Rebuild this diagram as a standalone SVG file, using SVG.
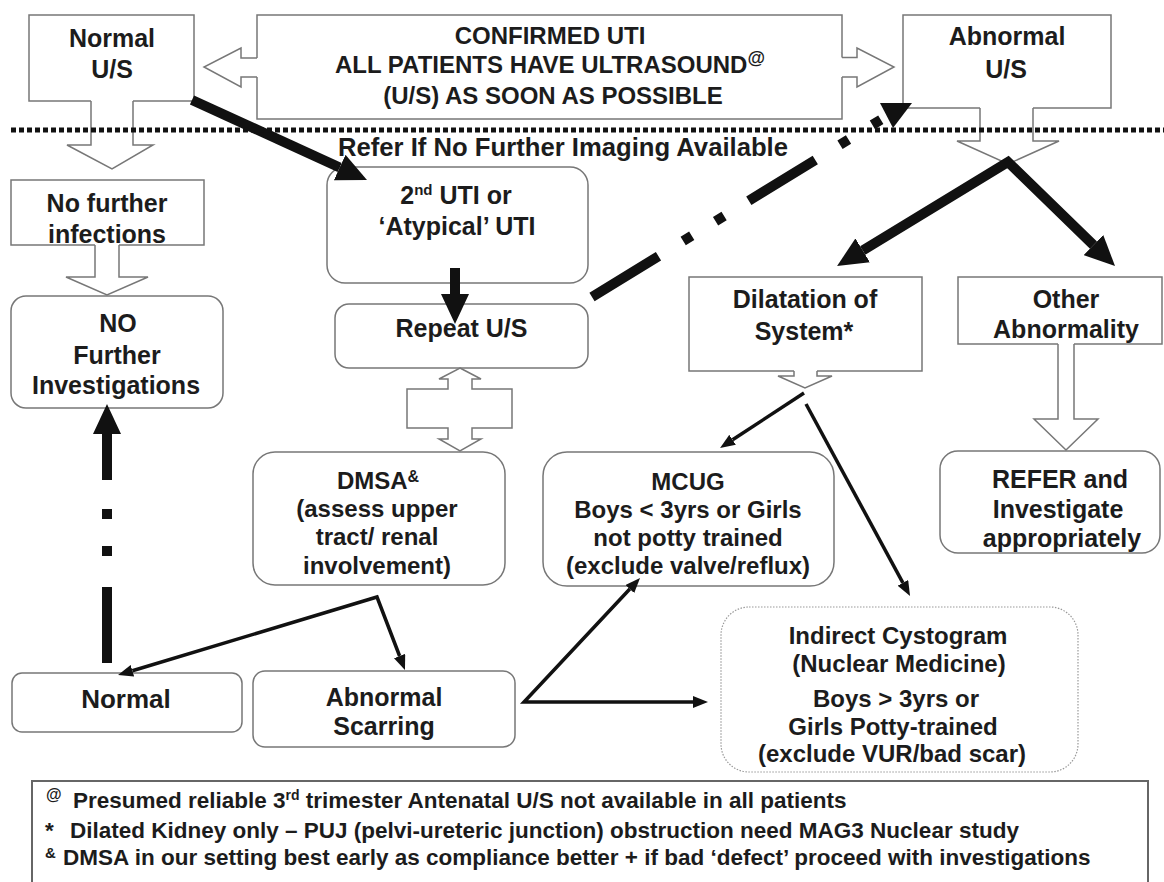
<svg xmlns="http://www.w3.org/2000/svg" width="1164" height="882" viewBox="0 0 1164 882">
<style>
text{font-family:"Liberation Sans",Arial,Helvetica,sans-serif;font-weight:bold;fill:#1c1c1c;font-size:25px;text-anchor:middle}
.f24{font-size:24px}
.f26{font-size:26px}
.fn{font-size:22.5px;text-anchor:start}
.st{text-anchor:start}
.box{fill:#fff;stroke:#777;stroke-width:1.5}
.open{fill:none;stroke:#777;stroke-width:1.5}
.blk{fill:#fff;stroke:#777;stroke-width:1.5;stroke-linejoin:miter}
.thick{fill:none;stroke:#111;stroke-width:10}
.thin{fill:none;stroke:#111;stroke-width:3.5}
.dot{fill:#fff;stroke:#999;stroke-width:1.2;stroke-dasharray:1.5 1.5}
</style>
<defs>
<marker id="big" markerUnits="userSpaceOnUse" viewBox="0 0 30 28" refX="0" refY="14" markerWidth="30" markerHeight="28" orient="auto-start-reverse">
<path d="M0,0 L30,14 L0,28 z" fill="#111"/>
</marker>
<marker id="small" markerUnits="userSpaceOnUse" viewBox="0 0 15 12" refX="0" refY="6" markerWidth="15" markerHeight="12" orient="auto-start-reverse">
<path d="M0,0 L15,6 L0,12 z" fill="#111"/>
</marker>
</defs>
<rect width="1164" height="882" fill="#fff"/>

<g id="nodes">
<g id="n-normal-us">
<path class="open" d="M91,101 H29 V15 H194 V101 H133"/>
<text x="112" y="47">Normal</text>
<text x="112" y="78">U/S</text>
</g>
<g id="n-confirmed">
<path class="open" d="M257,58 V15 H842 V57.5 M842,77 V119 H257 V77"/>
<text class="f24" x="550" y="44">CONFIRMED UTI</text>
<text class="f24" x="550" y="73">ALL PATIENTS HAVE ULTRASOUND<tspan font-size="18" dy="-9">@</tspan></text>
<text class="f24" x="553" y="104">(U/S) AS SOON AS POSSIBLE</text>
</g>
<g id="n-abnormal-us">
<path class="open" d="M980,108 H903 V15 H1111 V108 H1033"/>
<text x="1007" y="45">Abnormal</text>
<text x="1006" y="78">U/S</text>
</g>
<g id="n-no-further-inf">
<path class="open" d="M95,245 H11 V180 H204 V245 H119"/>
<text x="107" y="212">No further</text>
<text x="107" y="243">infections</text>
</g>
<g id="n-no-further-inv">
<rect class="box" x="11" y="296" width="212" height="112" rx="15"/>
<text x="118" y="332">NO</text>
<text x="117" y="364">Further</text>
<text x="116" y="394">Investigations</text>
</g>
<g id="n-2nd-uti">
<rect class="box" x="327" y="167" width="261" height="116" rx="18"/>
<text x="456" y="204">2<tspan font-size="15" dy="-9">nd</tspan><tspan dy="9"> UTI or</tspan></text>
<text x="457" y="235">‘Atypical’ UTI</text>
</g>
<g id="n-repeat-us">
<rect class="box" x="335" y="304" width="253" height="64" rx="14"/>
<text x="461.5" y="337">Repeat U/S</text>
</g>
<g id="n-dmsa">
<rect class="box" x="253" y="452" width="252" height="133" rx="22"/>
<text class="f24" x="378" y="489">DMSA<tspan font-size="16" dy="-7">&amp;</tspan></text>
<text class="f24" x="377" y="517">(assess upper</text>
<text class="f24" x="377" y="545">tract/ renal</text>
<text class="f24" x="377" y="574">involvement)</text>
</g>
<g id="n-dilatation">
<path class="open" d="M794,371 H689 V277 H922 V371 H817"/>
<text x="805" y="308">Dilatation of</text>
<text x="804" y="340">System*</text>
</g>
<g id="n-other">
<path class="open" d="M1058,344 H958 V277 H1162 V344 H1074"/>
<text x="1066" y="308">Other</text>
<text x="1066" y="338">Abnormality</text>
</g>
<g id="n-mcug">
<rect class="box" x="543" y="452" width="291" height="134" rx="24"/>
<text class="f24" x="688" y="490">MCUG</text>
<text class="f24" x="688" y="518">Boys &lt; 3yrs or Girls</text>
<text class="f24" x="688" y="546">not potty trained</text>
<text class="f24" x="688" y="574">(exclude valve/reflux)</text>
</g>
<g id="n-refer">
<rect class="box" x="940" y="451" width="220" height="102" rx="18"/>
<text x="1060" y="488">REFER and</text>
<text x="1058" y="518">Investigate</text>
<text x="1062" y="547">appropriately</text>
</g>
<g id="n-indirect">
<rect class="dot" x="721" y="607" width="357" height="165" rx="28"/>
<text class="f24" x="898" y="644">Indirect Cystogram</text>
<text class="f24" x="899" y="672">(Nuclear Medicine)</text>
<text class="f24" x="896" y="707">Boys &gt; 3yrs or</text>
<text class="f24" x="893" y="735">Girls Potty-trained</text>
<text class="f24" x="892" y="762">(exclude VUR/bad scar)</text>
</g>
<g id="n-normal">
<rect class="box" x="12" y="673" width="230" height="59" rx="10"/>
<text class="f26" x="126" y="708">Normal</text>
</g>
<g id="n-abn-scarring">
<rect class="box" x="253" y="671" width="262" height="76" rx="12"/>
<text x="384" y="706">Abnormal</text>
<text x="384" y="735">Scarring</text>
</g>
</g>

<g id="connectors">
<polyline class="blk" points="257,58 241,58 241,48 204,67 241,87 241,77 257,77"/>
<polyline class="blk" points="842,57.5 857,57.5 857,48 894,67 857,87 857,77 842,77"/>
<polyline class="blk" points="91,101 91,145 67,145 112,169 153,145 133,145 133,101"/>
<polyline class="blk" points="980,108 980,141 957,141 1008,164 1059,141 1033,141 1033,108"/>
<polyline class="blk" points="95,245 95,277 66,277 107,295 148,277 119,277 119,245"/>
<polyline class="blk" points="794,371 794,376 778,376 805,388 832,376 817,376 817,371"/>
<polyline class="blk" points="1058,344 1058,419 1034,419 1066,450 1098,419 1074,419 1074,344"/>
<polygon class="blk" points="460,368 481,379 472,379 472,389 512,389 512,428 472,428 472,439 481,439 460,451 439,439 448,439 448,428 407,428 407,389 448,389 448,379 439,379"/>

<path class="thick" d="M192,100 L339.7,167.5" marker-end="url(#big)"/>
<path class="thick" d="M455,268 L455,294" marker-end="url(#big)"/>
<path class="thick" d="M862.7,250.4 L1008,162 L1093.5,245.1" marker-start="url(#big)" marker-end="url(#big)"/>
<path class="thick" d="M592,297 L880.8,119.7" stroke-dasharray="78 29 10 28 10 29 78 29 10 28 10"/>
<polygon points="880,103 912,103 893,128" fill="#111"/>
<path class="thick" d="M107,663 L107,434" stroke-dasharray="76 31 10 27 10 29 46" marker-end="url(#big)"/>

<path class="thin" d="M132.4,670.7 L377,597 L399.6,656" marker-start="url(#small)" marker-end="url(#small)"/>
<path class="thin" d="M804,393 L732.6,439.8" marker-end="url(#small)"/>
<path class="thin" d="M806,404 L902.9,582.8" marker-end="url(#small)"/>
<path class="thin" d="M629.8,589 L524,702 L693,702" marker-start="url(#small)" marker-end="url(#small)"/>
</g>

<g id="divider">
<line x1="11" y1="130" x2="1164" y2="130" stroke="#111" stroke-width="5" stroke-dasharray="5 3"/>
</g>

<g id="label-refer">
<text class="st" x="338" y="156" textLength="450" lengthAdjust="spacingAndGlyphs">Refer If No Further Imaging Available</text>
</g>

<g id="footnotes">
<rect x="32" y="781" width="1116" height="120" fill="none" stroke="#666" stroke-width="2"/>
<text class="fn" x="46" y="808"><tspan font-size="16" dy="-8">@</tspan><tspan x="73" dy="8">Presumed reliable 3</tspan><tspan font-size="14" dy="-8">rd</tspan><tspan dy="8"> trimester Antenatal U/S not available in all patients</tspan></text>
<text class="fn" x="45" y="838">*<tspan x="70">Dilated Kidney only – PUJ (pelvi-ureteric junction) obstruction need MAG3 Nuclear study</tspan></text>
<text class="fn" x="45" y="865"><tspan font-size="15" dy="-7">&amp;</tspan><tspan x="63" dy="7">DMSA in our setting best early as compliance better + if bad ‘defect’ proceed with investigations</tspan></text>
</g>
</svg>
